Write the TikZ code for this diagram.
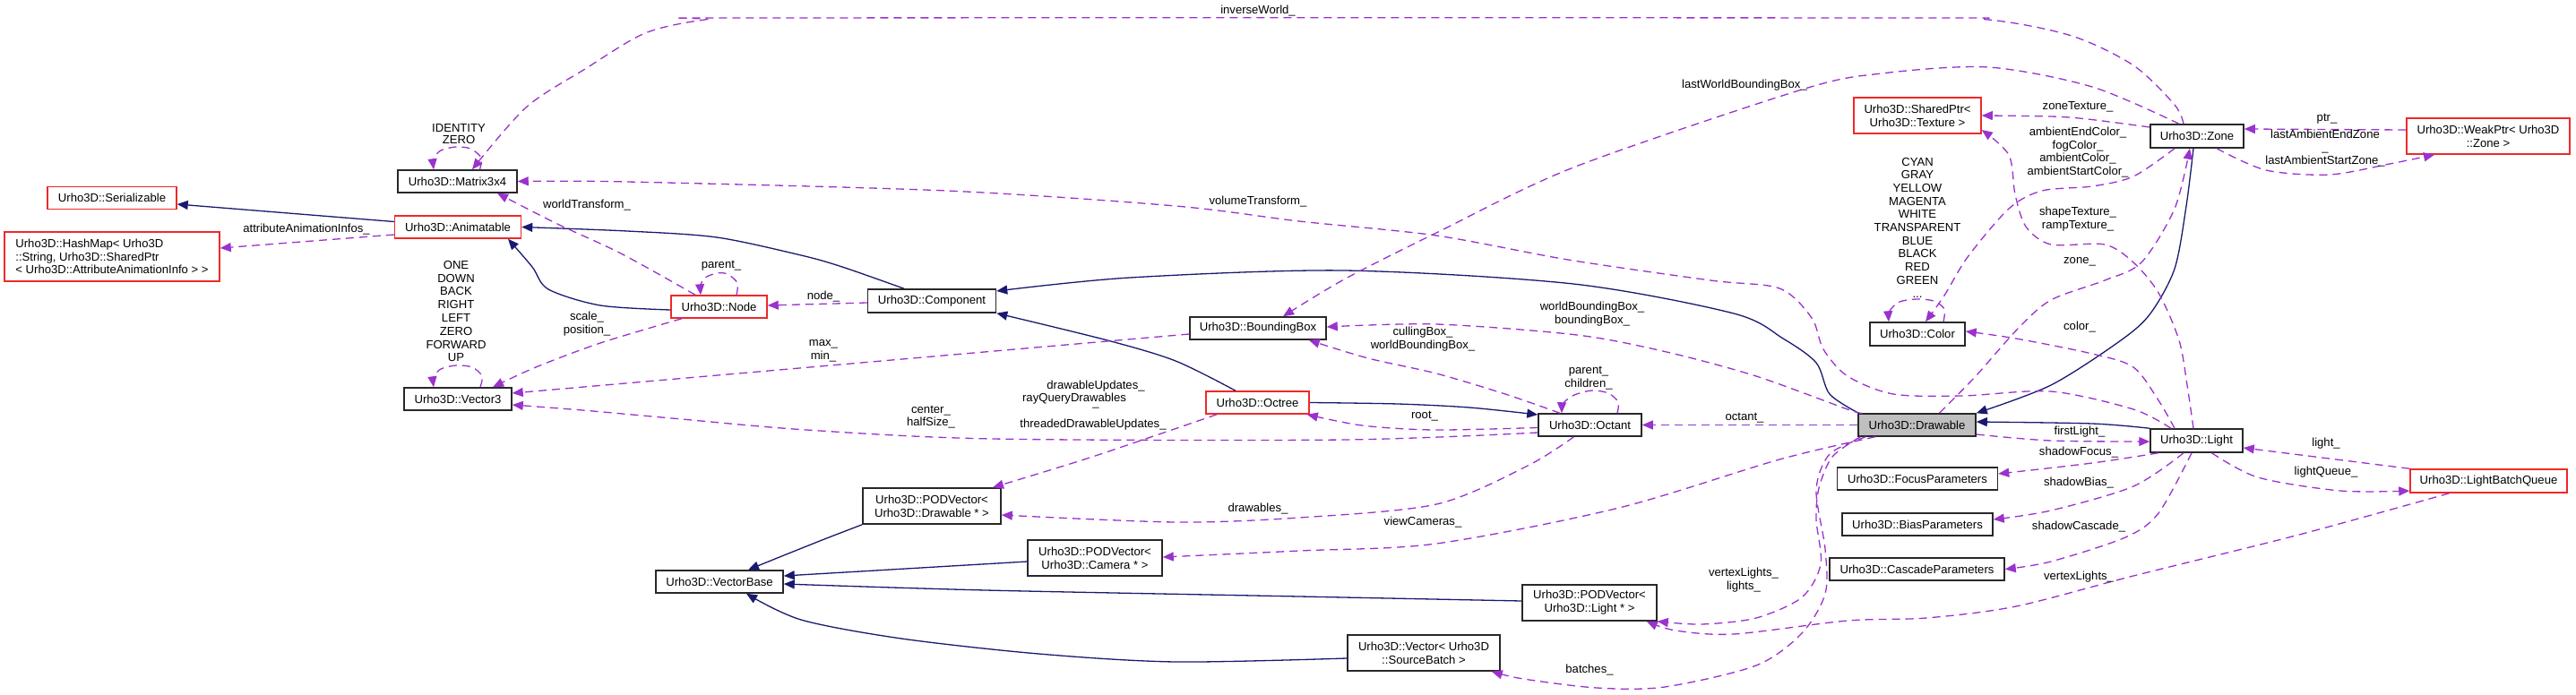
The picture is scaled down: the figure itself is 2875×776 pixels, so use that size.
\documentclass[tikz,border=0pt]{standalone}
\usepackage{fontspec}
\setmainfont{Liberation Sans}
\usetikzlibrary{arrows.meta}
\definecolor{inhblue}{RGB}{25,25,112}
\definecolor{usepurple}{RGB}{154,50,205}
\definecolor{boxred}{RGB}{240,40,40}
\definecolor{boxedge}{RGB}{40,40,40}
\definecolor{drawfill}{RGB}{191,191,191}
\newcommand\lblfont{\fontsize{13.1}{14.8}\selectfont}
\tikzset{
 cls/.style={draw=boxedge, line width=1.5pt, inner sep=0pt, align=center, font=\lblfont},
 rcls/.style={cls, draw=boxred},
 lbl/.style={inner sep=0pt, align=center, font=\lblfont},
 inh/.style={draw=inhblue, line width=1.3pt, -{Triangle[length=12pt,width=10pt,fill=inhblue]}},
 use/.style={draw=usepurple, line width=1.3pt, dash pattern=on 9pt off 6pt, -{Triangle[length=12pt,width=10pt,fill=usepurple]}},
}
\begin{document}
\begin{tikzpicture}[x=1pt,y=-1pt]
\fill[white] (0,0) rectangle (2875,776);
\useasboundingbox (0,0) rectangle (2875,776);
% classes
\node[rcls, minimum width=144pt, minimum height=25pt] (ser) at (125,221) {Urho3D::Serializable};
\node[rcls, minimum width=240pt, minimum height=55pt, align=left] (hash) at (125,286.5) {Urho3D::HashMap< Urho3D\\::String, Urho3D::SharedPtr\\< Urho3D::AttributeAnimationInfo > >};
\node[cls, minimum width=133pt, minimum height=25pt] (mat) at (510.5,202.5) {Urho3D::Matrix3x4};
\node[rcls, minimum width=141pt, minimum height=25pt] (anim) at (511,253.5) {Urho3D::Animatable};
\node[cls, minimum width=120pt, minimum height=25pt] (vec3) at (511,445.5) {Urho3D::Vector3};
\node[rcls, minimum width=107pt, minimum height=25pt] (nodeN) at (802.5,342.5) {Urho3D::Node};
\node[cls, minimum width=143pt, minimum height=26pt] (comp) at (1040,336) {Urho3D::Component};
\node[cls, minimum width=152pt, minimum height=25pt] (bbox) at (1404,366.5) {Urho3D::BoundingBox};
\node[rcls, minimum width=115pt, minimum height=25pt] (octree) at (1403.5,449.5) {Urho3D::Octree};
\node[cls, minimum width=154pt, minimum height=40pt] (podd) at (1040,565) {Urho3D::PODVector<\\Urho3D::Drawable * >};
\node[cls, minimum width=150pt, minimum height=40pt] (podc) at (1222,623) {Urho3D::PODVector<\\Urho3D::Camera * >};
\node[cls, minimum width=142pt, minimum height=25pt] (vbase) at (803,649.5) {Urho3D::VectorBase};
\node[rcls, minimum width=142pt, minimum height=40pt] (shtex) at (2140,129) {Urho3D::SharedPtr<\\Urho3D::Texture >};
\node[cls, minimum width=106pt, minimum height=26pt] (color) at (2140,373) {Urho3D::Color};
\node[cls, minimum width=115pt, minimum height=25pt] (octant) at (1774.5,474.5) {Urho3D::Octant};
\node[cls, fill=drawfill, minimum width=131pt, minimum height=25pt] (drw) at (2139.5,474.5) {Urho3D::Drawable};
\node[cls, minimum width=179pt, minimum height=25pt] (focus) at (2140,534.5) {Urho3D::FocusParameters};
\node[cls, minimum width=168pt, minimum height=25pt] (bias) at (2140,585.5) {Urho3D::BiasParameters};
\node[cls, minimum width=195pt, minimum height=25pt] (casc) at (2139.5,635.5) {Urho3D::CascadeParameters};
\node[cls, minimum width=150pt, minimum height=40pt] (podl) at (1774,673) {Urho3D::PODVector<\\Urho3D::Light * >};
\node[cls, minimum width=170pt, minimum height=40pt] (vsb) at (1589,729) {Urho3D::Vector< Urho3D\\::SourceBatch >};
\node[cls, minimum width=104pt, minimum height=26pt] (zone) at (2452,152) {Urho3D::Zone};
\node[rcls, minimum width=182pt, minimum height=40pt] (weak) at (2777,152) {Urho3D::WeakPtr< Urho3D\\::Zone >};
\node[cls, minimum width=103pt, minimum height=26pt] (light) at (2451.5,492) {Urho3D::Light};
\node[rcls, minimum width=175pt, minimum height=26pt] (lbq) at (2777.5,537) {Urho3D::LightBatchQueue};
% inheritance
\draw[inh] ([yshift=6pt]anim.west) -- ([yshift=-7pt]ser.east);
\draw[inh] plot[smooth] coordinates {([yshift=-3.5pt]nodeN.west) (670,341) (612,323) (594,298) ([xshift=56pt]anim.south)};
\draw[inh] plot[smooth] coordinates {([xshift=-31pt]comp.north) (940,298) (894,285) (800,265) (700,258) (anim.east)};
\draw[inh] plot[smooth] coordinates {([xshift=-24.5pt]octree.north) (1312,403) (1236,380) (comp.south east)};
\draw[inh] plot[smooth] coordinates {([xshift=1pt]drw.north west) (2042,440) (2027,405) (1990,378) (1935,350) (1756,317) (1500,302) (1261,310) ([yshift=11pt]comp.east)};
\draw[inh] plot[smooth] coordinates {([xshift=-4pt]zone.south) (2440,230) (2427,300) (2400,350) (2367,380) (2289,430) (drw.north east)};
\draw[inh] plot[smooth] coordinates {(light.north west) (2335,473) ([yshift=3.5pt]drw.east)};
\draw[inh] plot[smooth] coordinates {(octree.east) (1560,451) (1640,455) ([yshift=11.5pt]octant.west)};
\draw[inh] plot[smooth] coordinates {(podd.south west) (920,602) (870,622) ([xshift=32pt]vbase.north)};
\draw[inh] ([yshift=-4pt]podc.west) -- ([yshift=6.5pt]vbase.east);
\draw[inh] plot[smooth] coordinates {([yshift=2pt]podl.west) (1450,666) (1100,659) ([yshift=-2.5pt]vbase.east)};
\draw[inh] plot[smooth] coordinates {([yshift=-6pt]vsb.west) (1312,739) (1159,730) (1006,713) (894,692) ([xshift=30pt]vbase.south)};
% usage
\draw[use] ([yshift=-8.5pt]anim.west) -- ([yshift=9.5pt]hash.east);
\draw[use] plot[smooth] coordinates {([xshift=25pt]mat.north) (537,176) (525,166) (509,164) (492,168) (484,177) ([xshift=-26.5pt]mat.north)};
\draw[use] plot[smooth] coordinates {([xshift=-15pt]zone.north) (2427,117) (2381,73) (2312,40) (2219,22) (2100,20) (850,20) (787,22) (720,37) (653,77) (587,120) ([xshift=16.5pt]mat.north)};
\draw[use] plot[smooth] coordinates {([xshift=-26.5pt]nodeN.north) (693,283) (622,250) ([xshift=44.5pt]mat.south)};
\draw[use] plot[smooth] coordinates {([xshift=19.5pt]nodeN.north) (823,316) (812,306) (800,305) (787,310) (782,318) ([xshift=-20.5pt]nodeN.north)};
\draw[use] plot[smooth] coordinates {([xshift=-41.5pt]nodeN.south) (670,383) (598,410) ([xshift=39pt]vec3.north)};
\draw[use] ([yshift=-2pt]comp.west) -- ([yshift=1.5pt]nodeN.east);
\draw[use] plot[smooth] coordinates {([xshift=25pt]vec3.north) (538,420) (527,410) (509,408) (492,412) (484,421) ([xshift=-27pt]vec3.north)};
\draw[use] ([yshift=-6.5pt]bbox.west) -- ([yshift=6.5pt]vec3.east);
\draw[use] plot[smooth] coordinates {([yshift=-8.5pt]octant.west) (1500,491) (1108,490) (900,480) (750,467) (650,458) ([yshift=-6.5pt]vec3.east)};
\draw[use] (drw.west) -- (octant.east);
\draw[use] plot[smooth] coordinates {([xshift=30.5pt]octant.north) (1806,449) (1795,439) (1777,436) (1757,441) (1745,450) ([xshift=-31.5pt]octant.north)};
\draw[use] plot[smooth] coordinates {([yshift=-3pt]octant.west) (1600,480) (1520,475) ([xshift=-3pt]octree.south east)};
\draw[use] plot[smooth] coordinates {([xshift=-18pt]octant.south) (1705,520) (1603,563) (1450,578) (1312,583) ([yshift=-10pt]podd.east)};
\draw[use] plot[smooth] coordinates {([xshift=-45.5pt]octree.south) (1302,482) (1210,513) ([xshift=68pt]podd.north)};
\draw[use] plot[smooth] coordinates {([xshift=-46.5pt]drw.south) (1986,513) (1807,567) (1603,607) (1450,615) ([yshift=1pt]podc.east)};
\draw[use] plot[smooth] coordinates {([xshift=3pt]drw.south west) (2045,510) (2030,545) (2027,580) (2032,630) (2011,667) (1960,690) (1899,697) (podl.south east)};
\draw[use] plot[smooth] coordinates {([xshift=9pt]drw.south west) (2042,507) (2027,547) (2037,613) (2037,663) (2011,707) (1960,743) (1858,767) (1782,768) (1700,758) ([xshift=-10pt]vsb.south east)};
\draw[use] plot[smooth] coordinates {([xshift=5pt]drw.north west) (2062,457) (1960,420) (1860,393) (1760,374) (1603,362) ([yshift=1.5pt]bbox.east)};
\draw[use] plot[smooth] coordinates {([xshift=-33.5pt]octant.north) (1680,440) (1603,417) (1527,400) ([xshift=-20pt]bbox.south east)};
\draw[use] plot[smooth] coordinates {([xshift=-20pt]zone.north) (2335,97) (2219,75) (2100,82) (2011,100) (1756,187) (1603,260) (1500,312) ([xshift=28pt]bbox.north)};
\draw[use] plot[smooth] coordinates {([xshift=-28.5pt]light.north) (2381,457) (2289,437) (2190,442) (2113,440) (2062,420) (2035,390) (2022,355) (1986,322) (1909,313) (1750,290) (1603,263) (1450,247) (1312,230) (1057,213) (700,203) (mat.east)};
\draw[use] plot[smooth] coordinates {([xshift=-24.5pt]light.north) (2409,447) (2381,410) (2335,395) (2250,378) ([yshift=3pt]color.east)};
\draw[use] plot[smooth] coordinates {([xshift=-3.5pt]light.north) (2441,430) (2432,380) (2409,327) (2381,293) (2349,273) (2289,273) (2261,253) (2249,217) (2242,173) ([yshift=-16pt]shtex.east)};
\draw[use] plot[smooth] coordinates {([yshift=10pt]zone.west) (2330,133) (2289,130) (shtex.east)};
\draw[use] plot[smooth] coordinates {([xshift=-25pt]zone.south) (2381,197) (2335,208) (2279,213) (2242,233) (2196,287) (2170,330) ([xshift=9pt]color.north)};
\draw[use] plot[smooth] coordinates {([xshift=25pt]drw.north) (2205,420) (2252,367) (2289,335) (2349,313) (2390,293) (2427,233) ([xshift=-8pt]zone.south)};
\draw[use] plot[smooth] coordinates {([xshift=29pt]color.north) (2170,345) (2158,336) (2139,334) (2120,337) (2109,347) ([xshift=-32pt]color.north)};
\draw[use] ([yshift=7pt]weak.west) -- ([yshift=8pt]zone.east);
\draw[use] plot[smooth] coordinates {([xshift=22pt]zone.south) (2529,190) (2600,195) (2667,183) ([xshift=-60pt]weak.south)};
\draw[use] (lbq.north west) -- ([yshift=-8pt]light.east);
\draw[use] plot[smooth] coordinates {([xshift=17pt]light.south) (2520,533) (2612,548) ([yshift=-11pt]lbq.west)};
\draw[use] plot[smooth] coordinates {([xshift=-44pt]lbq.south) (2566,597) (2381,643) (2250,677) (2150,690) (2062,693) (1935,708) (1870,704) ([xshift=-12pt]podl.south east)};
\draw[use] plot[smooth] coordinates {([yshift=-10.5pt]drw.east) (2289,492) ([yshift=-1pt]light.west)};
\draw[use] plot[smooth] coordinates {([xshift=-42.5pt]light.south) (2335,517) ([yshift=5.5pt]focus.east)};
\draw[use] plot[smooth] coordinates {([xshift=-14.5pt]light.south) (2381,543) (2289,570) ([yshift=5.5pt]bias.east)};
\draw[use] plot[smooth] coordinates {([xshift=-5.5pt]light.south) (2409,573) (2372,600) (2289,627) (casc.east)};
% labels
\node[lbl, font=\fontsize{13.1}{13.4}\selectfont] (l01) at (512,149.5) {IDENTITY\\ZERO};
\node[lbl] (l02) at (342,256) {attributeAnimationInfos\_};
\node[lbl] (l03) at (655,229) {worldTransform\_};
\node[lbl] (l04) at (509,347.5) {ONE\\DOWN\\BACK\\RIGHT\\LEFT\\ZERO\\FORWARD\\UP};
\node[lbl] (l05) at (655,361.5) {scale\_\\position\_};
\node[lbl] (l06) at (805,297) {parent\_};
\node[lbl] (l07) at (919,331) {node\_};
\node[lbl] (l08) at (919,391.5) {max\_\\min\_};
\node[lbl] (l09) at (1404,12) {inverseWorld\_};
\node[lbl] (l10) at (1404,225) {volumeTransform\_};
\node[lbl] (l11) at (1223,431) {drawableUpdates\_};
\node[lbl] (l12) at (1199,445) {rayQueryDrawables};
\node[lbl] (l13) at (1223,455) {\_};
\node[lbl] (l14) at (1220,474) {threadedDrawableUpdates\_};
\node[lbl] (l15) at (1039,465.5) {center\_\\halfSize\_};
\node[lbl] (l16) at (1404,568) {drawables\_};
\node[lbl] (l17) at (1947,95) {lastWorldBoundingBox\_};
\node[lbl, font=\fontsize{13.1}{14.7}\selectfont] (l18) at (2140,254) {CYAN\\GRAY\\YELLOW\\MAGENTA\\WHITE\\TRANSPARENT\\BLUE\\BLACK\\RED\\GREEN\\...};
\node[lbl] (l19) at (1777,351) {worldBoundingBox\_\\boundingBox\_};
\node[lbl] (l20) at (1588,379) {cullingBox\_\\worldBoundingBox\_};
\node[lbl] (l21) at (1773,422) {parent\_\\children\_};
\node[lbl] (l22) at (1590,465) {root\_};
\node[lbl] (l23) at (1947,467) {octant\_};
\node[lbl] (l24) at (1588,583) {viewCameras\_};
\node[lbl] (l25) at (1946,647.5) {vertexLights\_\\lights\_};
\node[lbl] (l26) at (1774,748) {batches\_};
\node[lbl] (l27) at (2319,119) {zoneTexture\_};
\node[lbl] (l28) at (2319,170) {ambientEndColor\_\\fogColor\_\\ambientColor\_\\ambientStartColor\_};
\node[lbl] (l29) at (2597,133) {ptr\_};
\node[lbl] (l30) at (2595,165.5) {lastAmbientEndZone\\\_\\lastAmbientStartZone\_};
\node[lbl] (l31) at (2319,244.5) {shapeTexture\_\\rampTexture\_};
\node[lbl] (l32) at (2321,292) {zone\_};
\node[lbl] (l33) at (2321,365) {color\_};
\node[lbl] (l34) at (2321,482) {firstLight\_};
\node[lbl] (l35) at (2320,505) {shadowFocus\_};
\node[lbl] (l36) at (2320,539) {shadowBias\_};
\node[lbl] (l37) at (2320,588) {shadowCascade\_};
\node[lbl] (l38) at (2320,644) {vertexLights\_};
\node[lbl] (l39) at (2596,495) {light\_};
\node[lbl] (l40) at (2596,527) {lightQueue\_};
\end{tikzpicture}
\end{document}
